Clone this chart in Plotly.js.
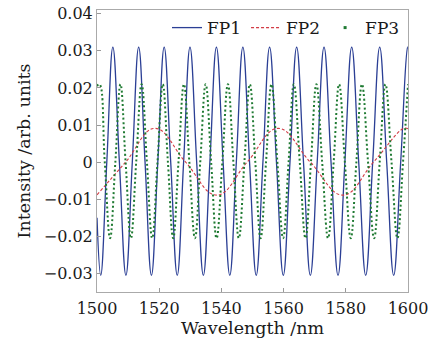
<!DOCTYPE html>
<html>
<head>
<meta charset="utf-8">
<script src="https://cdn.plot.ly/plotly-3.0.1.min.js"></script>
<style>html,body{margin:0;padding:0;background:#fff;}#chart{width:438px;height:341px;}</style>
</head>
<body>
<div id="chart"></div>
<script>
// FP1: peaks, troughs and zero crossings (nm, arb. units)
var fp1Wavelength = [1500, 1501.2, 1503.15, 1505.1, 1507.2, 1509.3, 1511.35, 1513.4, 1515.45, 1517.5, 1519.55, 1521.6, 1523.7, 1525.8, 1527.85, 1529.9, 1532.05, 1534.2, 1536.3, 1538.4, 1540.55, 1542.7, 1544.8, 1546.9, 1549.05, 1551.2, 1553.35, 1555.5, 1557.7, 1559.9, 1562.05, 1564.2, 1566.4, 1568.6, 1570.8, 1573.0, 1575.25, 1577.5, 1579.7, 1581.9, 1584.15, 1586.4, 1588.65, 1590.9, 1593.15, 1595.4, 1597.65, 1599.9, 1600];
var fp1Intensity = [-0.015, -0.0305, 0, 0.031, 0, -0.0305, 0, 0.031, 0, -0.0305, 0, 0.031, 0, -0.0305, 0, 0.031, 0, -0.0305, 0, 0.031, 0, -0.0305, 0, 0.031, 0, -0.0305, 0, 0.031, 0, -0.0305, 0, 0.031, 0, -0.0305, 0, 0.031, 0, -0.0305, 0, 0.031, 0, -0.0305, 0, 0.031, 0, -0.0305, 0, 0.031, 0.031];

// FP2
var fp2Wavelength = [1500, 1509.2, 1518.6, 1528.5, 1538.5, 1548.3, 1558.2, 1568.6, 1579.1, 1588.9, 1598.6, 1600];
var fp2Intensity = [-0.0088, 0, 0.0091, 0, -0.0089, 0, 0.0091, 0, -0.0089, 0, 0.0091, 0.009];

// FP3
var fp3Wavelength = [1500, 1500.8, 1502.5, 1504.2, 1505.9, 1507.55, 1509.2, 1510.9, 1512.6, 1514.35, 1516.05, 1517.75, 1519.45, 1521.15, 1522.8, 1524.5, 1526.2, 1527.95, 1529.7, 1531.5, 1533.2, 1534.95, 1536.7, 1538.45, 1540.3, 1542.1, 1543.85, 1545.6, 1547.4, 1549.15, 1550.9, 1552.6, 1554.35, 1556.1, 1558.0, 1559.85, 1561.6, 1563.3, 1565.2, 1567.05, 1568.8, 1570.55, 1572.4, 1574.3, 1576.1, 1577.85, 1579.7, 1581.6, 1583.4, 1585.2, 1587.15, 1589.1, 1590.9, 1592.75, 1594.7, 1596.6, 1598.4, 1600];
var fp3Intensity = [0.0205, 0.021, 0, -0.0205, 0, 0.021, 0, -0.0205, 0, 0.021, 0, -0.0205, 0, 0.021, 0, -0.0205, 0, 0.021, 0, -0.0205, 0, 0.021, 0, -0.0205, 0, 0.021, 0, -0.0205, 0, 0.021, 0, -0.0205, 0, 0.021, 0, -0.0205, 0, 0.021, 0, -0.0205, 0, 0.021, 0, -0.0205, 0, 0.021, 0, -0.0205, 0, 0.021, 0, -0.0205, 0, 0.021, 0, -0.0205, 0, 0.021];

var seriesNames = ['FP1', 'FP2', 'FP3'];
var xTicks = [1500, 1520, 1540, 1560, 1580, 1600];
var yTicks = [-0.03, -0.02, -0.01, 0, 0.01, 0.02, 0.03, 0.04];
var yTickText = ['\u22120.03', '\u22120.02', '\u22120.01', '0', '0.01', '0.02', '0.03', '0.04'];

var FONT = 'DejaVu Serif';
var traces = [
  {x: fp1Wavelength, y: fp1Intensity, name: seriesNames[0], mode: 'lines',
   line: {color: '#2b3f95', width: 1.3, shape: 'spline', smoothing: 1.2}},
  {x: fp2Wavelength, y: fp2Intensity, name: seriesNames[1], mode: 'lines',
   line: {color: '#d23b44', width: 1.1, dash: '3px,2px', shape: 'spline', smoothing: 1.2}},
  {x: fp3Wavelength, y: fp3Intensity, name: seriesNames[2], mode: 'lines', showlegend: false,
   line: {color: '#1f7a32', width: 2, dash: '2px,2.5px', shape: 'spline', smoothing: 1.2}},
  {x: [null], y: [null], name: seriesNames[2], mode: 'markers',
   marker: {color: '#1f7a32', size: 3, symbol: 'square'}}
];

var layout = {
  width: 438, height: 341,
  margin: {l: 97, r: 30, t: 10, b: 49},
  paper_bgcolor: '#fff', plot_bgcolor: '#fff',
  font: {family: FONT, color: '#1a1a1a', size: 17},
  showlegend: true,
  legend: {orientation: 'h', x: 0.225, xanchor: 'left', y: 0.936, yanchor: 'middle',
           bgcolor: 'rgba(0,0,0,0)', font: {family: FONT, size: 17, color: '#1a1a1a'}},
  xaxis: {range: [1500, 1600], tickvals: xTicks, ticktext: xTicks.map(String),
          ticks: 'inside', ticklen: 4, tickcolor: '#999', showline: true, linecolor: '#aaa',
          linewidth: 1, mirror: true, showgrid: false, zeroline: false,
          tickfont: {family: FONT, size: 16}, ticklabelstandoff: 2,
          title: {text: 'Wavelength /nm', font: {family: FONT, size: 17.5}, standoff: 4}},
  yaxis: {range: [-0.035, 0.041], tickvals: yTicks, ticktext: yTickText,
          ticks: 'inside', ticklen: 4, tickcolor: '#999', showline: true, linecolor: '#aaa',
          linewidth: 1, mirror: true, showgrid: false, zeroline: false,
          tickfont: {family: FONT, size: 16},
          title: {text: 'Intensity /arb. units', font: {family: FONT, size: 17.5}, standoff: 8}}
};

Plotly.newPlot('chart', traces, layout, {displayModeBar: false, staticPlot: true});
</script>
</body>
</html>
